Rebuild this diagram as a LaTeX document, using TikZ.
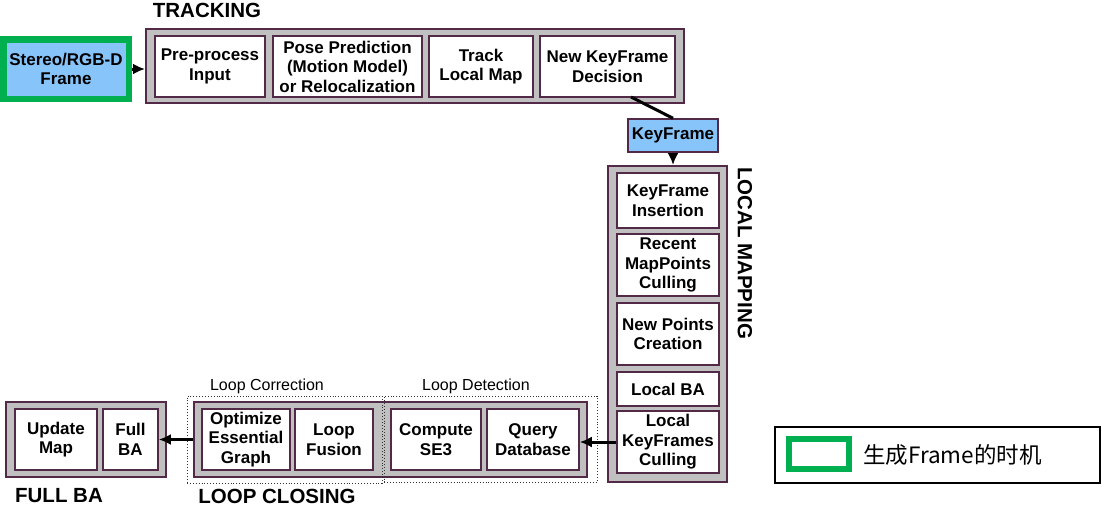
\documentclass[tikz,border=0pt]{standalone}
\usepackage{fontspec}
\setmainfont{Liberation Sans}
\newfontfamily\cjkfont{Noto Sans CJK SC}
\usetikzlibrary{arrows.meta,calc}
\definecolor{grayfill}{RGB}{192,192,192}
\definecolor{bordercol}{RGB}{82,42,72}
\definecolor{bluefill}{RGB}{135,196,250}
\definecolor{greenbd}{RGB}{0,176,80}
\tikzset{
  boxtext/.style={font=\fontsize{17}{19.5}\selectfont\bfseries, align=center},
  inbox/.style={boxtext, draw=bordercol, fill=white, line width=1.5pt, inner sep=0pt, minimum width=#1},
  graybox/.style={draw=bordercol, fill=grayfill, line width=2pt},
  dotbox/.style={draw=black!80, dotted, line width=0.9pt},
  title/.style={font=\fontsize{20.5}{22}\selectfont\bfseries, inner sep=0pt},
  sublabel/.style={font=\fontsize{16}{18}\selectfont, inner sep=0pt},
  conn/.style={line width=3pt, black},
  arr/.style={conn, -{Latex[length=12pt 0,width=11pt 0]}},
}
\begin{document}
\begin{tikzpicture}[x=1pt,y=-1pt]
\useasboundingbox (0,0) rectangle (1102,507);

% Stereo frame
\node[boxtext, fill=bluefill, draw=greenbd, line width=6.5pt, minimum width=125.5pt, minimum height=59.5pt, inner sep=0pt] (frame) at (66,69) {Stereo/RGB-D\\Frame};

% Tracking
\node[title] (trktitle) at (207,10) {TRACKING};
\node[graybox, minimum width=538pt, minimum height=74pt, inner sep=0pt] (trk) at (415,66) {};
\node[inbox=110pt, minimum height=61pt] (pp) at (210,66.5) {Pre-process\\Input};
\node[inbox=149pt, minimum height=61pt] (pose) at (347.5,66.5) {Pose Prediction\\(Motion Model)\\or Relocalization};
\node[inbox=104pt, minimum height=61pt] (tlm) at (481,66.5) {Track\\Local Map};
\node[inbox=135pt, minimum height=61pt] (nkd) at (607.5,66.5) {New KeyFrame\\Decision};

% KeyFrame
\node[boxtext, fill=bluefill, draw=bordercol, line width=1.5pt, minimum width=90pt, minimum height=33pt, inner sep=0pt] (kf) at (673,135.5) {KeyFrame};

% Local mapping
\node[graybox, minimum width=119pt, minimum height=316pt, inner sep=0pt] (lm) at (667.5,324) {};
\node[title, rotate=-90] (lmtitle) at (745,253) {LOCAL MAPPING};
\node[inbox=102pt, minimum height=55pt] (kfi) at (668,200.5) {KeyFrame\\Insertion};
\node[inbox=102pt, minimum height=62pt] (rmc) at (668,265) {Recent\\MapPoints\\Culling};
\node[inbox=102pt, minimum height=62pt] (npc) at (668,334) {New Points\\Creation};
\node[inbox=102pt, minimum height=34pt] (lba) at (668,389) {Local BA};
\node[inbox=102pt, minimum height=62pt] (lkc) at (668,442) {Local\\KeyFrames\\Culling};

% Loop closing
\node[graybox, minimum width=393pt, minimum height=75pt, inner sep=0pt] (lc) at (390.5,439.5) {};
\node[inbox=88pt, minimum height=61pt] (oeg) at (246,439.5) {Optimize\\Essential\\Graph};
\node[inbox=78pt, minimum height=61pt] (lf) at (334,439.5) {Loop\\Fusion};
\node[inbox=90pt, minimum height=61pt] (cse) at (436,439.5) {Compute\\SE3};
\node[inbox=92pt, minimum height=61pt] (qd) at (533,439.5) {Query\\Database};
\node[dotbox, minimum width=195pt, minimum height=87pt, inner sep=0pt] (lcor) at (284.5,439.5) {};
\node[dotbox, minimum width=213pt, minimum height=86pt, inner sep=0pt] (ldet) at (490.5,439) {};
\node[sublabel] (lcorlabel) at (267,386) {Loop Correction};
\node[sublabel] (ldetlabel) at (476,386) {Loop Detection};
\node[title] (lctitle) at (277,496) {LOOP CLOSING};

% Full BA
\node[graybox, minimum width=160pt, minimum height=75pt, inner sep=0pt] (fb) at (86,439.5) {};
\node[inbox=82pt, minimum height=61pt] (um) at (56,439.5) {Update\\Map};
\node[inbox=55pt, minimum height=61pt] (fba) at (130.5,439.5) {Full\\BA};
\node[title] (fbtitle) at (59,496) {FULL BA};

% Connectors
\draw[arr] (frame.east) -- (frame.east -| trk.west);
\coordinate (nkdout) at (631,97);
\draw[conn] (nkdout) -- (kf.north);
\draw[arr] (kf.south) -- (kf.south |- lm.north);
\draw[arr] (lkc.west) -- (lkc.west -| qd.east);
\draw[arr] (lc.west) -- (lc.west -| fba.east);

% Legend
\node[draw=black, line width=2pt, minimum width=325pt, minimum height=56pt, inner sep=0pt] (legend) at (937.5,455) {};
\node[draw=greenbd, line width=6pt, minimum width=60pt, minimum height=30pt, inner sep=0pt] (legsw) at (819,454) {};
\node[anchor=west, inner sep=0pt, font=\cjkfont\fontsize{22.5}{25}\selectfont] (legtext) at (863,455) {生成Frame的时机};
\end{tikzpicture}
\end{document}
